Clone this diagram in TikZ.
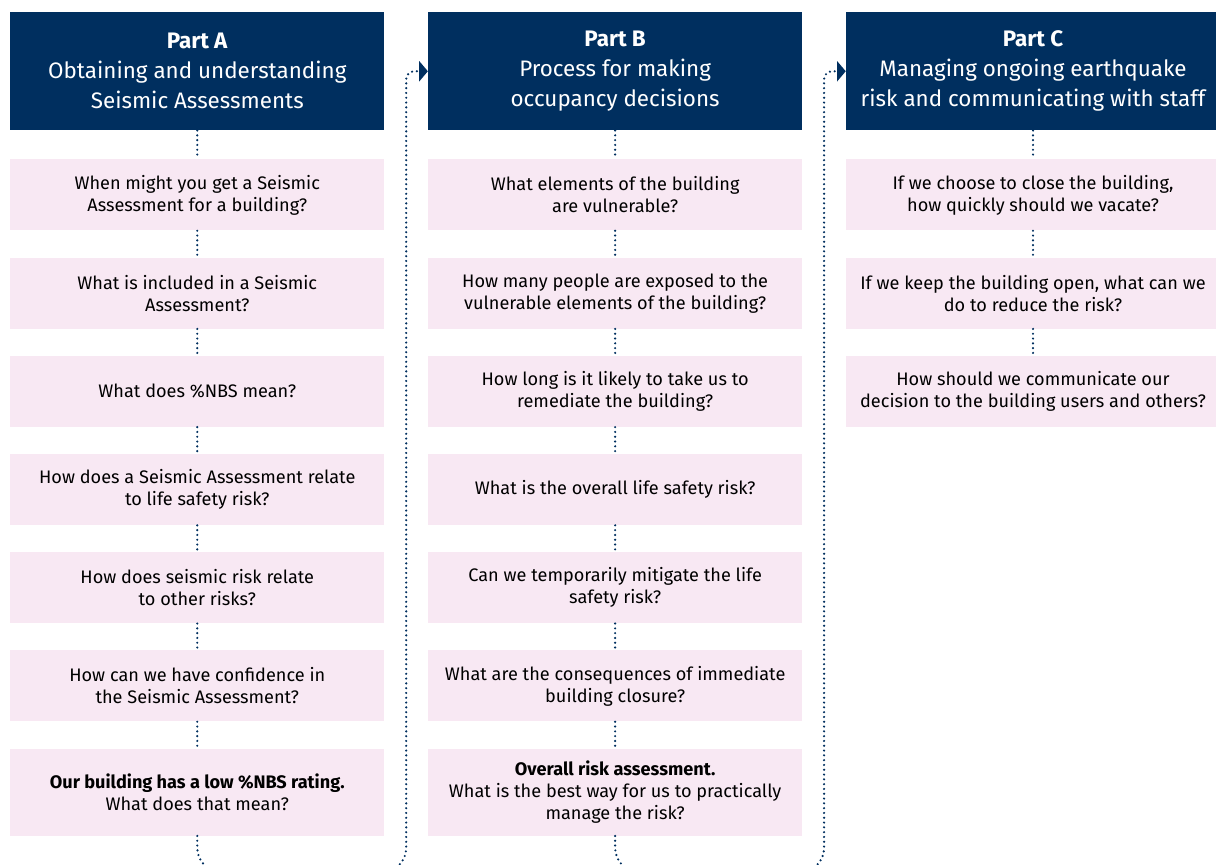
\documentclass[tikz,border=0pt]{standalone}
\usepackage{fontspec}
\setmainfont{Fira Sans}
\usetikzlibrary{positioning, calc, arrows.meta}

\definecolor{navy}{RGB}{0,47,95}
\definecolor{lightpink}{RGB}{248,232,243}

\begin{document}
\begin{tikzpicture}[
  header/.style={fill=navy, text=white, minimum width=280.5pt, minimum height=88.5pt, align=center, inner sep=2pt, font=\fontsize{16.8}{22.5}\selectfont},
  question/.style={fill=lightpink, text=black, minimum width=280.5pt, minimum height=53.25pt, align=center, inner sep=2pt, font=\fontsize{13.6}{16.5}\selectfont},
  link/.style={navy, line width=1.8pt, line cap=round, dash pattern=on 0pt off 3.6pt},
  flow/.style={link, -{Triangle[length=6.5pt, width=15pt]}},
  node distance=20pt
]

\useasboundingbox (0,0) rectangle (912pt,-648pt);
\clip (0,0) rectangle (912pt,-648pt);

% Part headers
\node[header, anchor=north west] (hdrA) at (7.5pt,-9pt) {\textbf{Part A}\\ Obtaining and understanding\\ Seismic Assessments};
\node[header, right=32.5pt of hdrA] (hdrB) {\textbf{Part B}\\ Process for making\\ occupancy decisions};
\node[header, right=32.5pt of hdrB] (hdrC) {\textbf{Part C}\\ Managing ongoing earthquake\\ risk and communicating with staff};

% Part A questions
\node[question, below=21.5pt of hdrA] (a1) {When might you get a Seismic\\ Assessment for a building?};
\node[question, below=of a1] (a2) {What is included in a Seismic\\ Assessment?};
\node[question, below=of a2] (a3) {What does \%NBS mean?};
\node[question, below=of a3] (a4) {How does a Seismic Assessment relate\\ to life safety risk?};
\node[question, below=of a4] (a5) {How does seismic risk relate\\ to other risks?};
\node[question, below=of a5] (a6) {How can we have confidence in\\ the Seismic Assessment?};
\node[question, below=of a6, minimum height=65.25pt] (a7) {\textbf{Our building has a low \%NBS rating.}\\ What does that mean?};

% Part B questions
\node[question, below=21.5pt of hdrB] (b1) {What elements of the building\\ are vulnerable?};
\node[question, below=of b1] (b2) {How many people are exposed to the\\ vulnerable elements of the building?};
\node[question, below=of b2] (b3) {How long is it likely to take us to\\ remediate the building?};
\node[question, below=of b3] (b4) {What is the overall life safety risk?};
\node[question, below=of b4] (b5) {Can we temporarily mitigate the life\\ safety risk?};
\node[question, below=of b5] (b6) {What are the consequences of immediate\\ building closure?};
\node[question, below=of b6, minimum height=65.25pt] (b7) {\textbf{Overall risk assessment.}\\ What is the best way for us to practically\\ manage the risk?};

% Part C questions
\node[question, below=21.5pt of hdrC] (c1) {If we choose to close the building,\\ how quickly should we vacate?};
\node[question, below=of c1] (c2) {If we keep the building open, what can we\\ do to reduce the risk?};
\node[question, below=of c2] (c3) {How should we communicate our\\ decision to the building users and others?};

% Dotted links within each part
\draw[link] (hdrA) -- (a1);
\draw[link] (a1) -- (a2);
\draw[link] (a2) -- (a3);
\draw[link] (a3) -- (a4);
\draw[link] (a4) -- (a5);
\draw[link] (a5) -- (a6);
\draw[link] (a6) -- (a7);
\draw[link] (hdrB) -- (b1);
\draw[link] (b1) -- (b2);
\draw[link] (b2) -- (b3);
\draw[link] (b3) -- (b4);
\draw[link] (b4) -- (b5);
\draw[link] (b5) -- (b6);
\draw[link] (b6) -- (b7);
\draw[link] (hdrC) -- (c1);
\draw[link] (c1) -- (c2);
\draw[link] (c2) -- (c3);

% Flow from one part to the next
\coordinate (ab) at ($(hdrA.east)!0.5!(hdrB.west)$);
\coordinate (bc) at ($(hdrB.east)!0.5!(hdrC.west)$);
\draw[flow] (a7.south) [rounded corners=18pt] |- ($(ab |- a7.south)+(0,-27pt)$) -- ($(ab)+(0,-30pt)$)
  [rounded corners=6pt] -- (ab) -- (hdrB.west);
\draw[flow] (b7.south) [rounded corners=18pt] |- ($(bc |- b7.south)+(0,-27pt)$) -- ($(bc)+(0,-30pt)$)
  [rounded corners=6pt] -- (bc) -- (hdrC.west);

\end{tikzpicture}
\end{document}
